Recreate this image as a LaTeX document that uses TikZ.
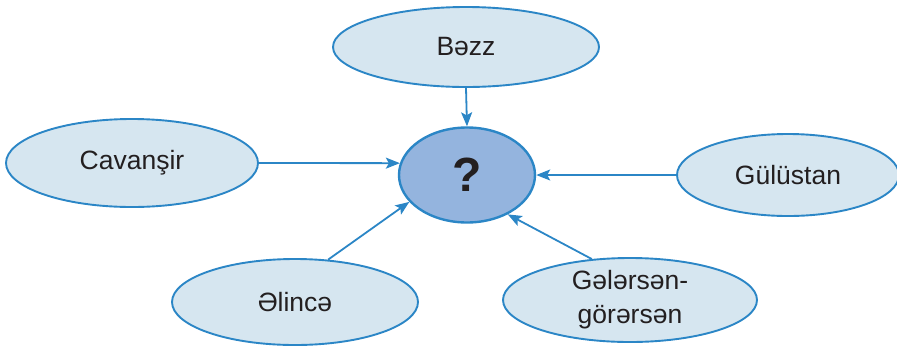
\documentclass[tikz,border=0pt]{standalone}
\usepackage{fontspec}
\setmainfont{Liberation Sans}
\usetikzlibrary{shapes.geometric,arrows.meta}
\definecolor{edgeblue}{HTML}{2B86C6}
\definecolor{lightfill}{HTML}{D6E6F0}
\definecolor{midfill}{HTML}{94B4DE}
\definecolor{txt}{HTML}{231F20}
\tikzset{
  leaf/.style={ellipse, draw=edgeblue, line width=1.9pt, fill=lightfill, inner sep=0pt,
    text=txt, font=\fontsize{26.5}{34}\selectfont, align=center},
  hub/.style={ellipse, draw=edgeblue, line width=2.4pt, fill=midfill, inner sep=0pt,
    text=txt, font=\fontsize{48}{50}\selectfont\bfseries},
  link/.style={draw=edgeblue, line width=1.8pt, -{Stealth[length=14pt,width=11pt,inset=3pt]}}
}
\begin{document}
\begin{tikzpicture}[x=1pt,y=-1pt]
\clip (0,0) rectangle (897,346);
\node[hub, minimum width=136pt, minimum height=95pt] (c) at (467,175) {?};
\node[leaf, minimum width=266pt, minimum height=80pt] (bezz) at (466,47) {Bəzz};
\node[leaf, minimum width=252pt, minimum height=88pt] (cav) at (132,163) {Cavanşir};
\node[leaf, minimum width=222pt, minimum height=82pt] (gul) at (788,175) {Gülüstan};
\node[leaf, minimum width=246pt, minimum height=86pt] (el) at (295,302) {Əlincə};
\node[leaf, minimum width=254pt, minimum height=84pt] (gel) at (630,300) {Gələrsən-\\görərsən};
\draw[link] (bezz.south) -- (c.north);
\draw[link] (cav.east) -- (c.170);
\draw[link] (gul.west) -- (c.east);
\draw[link] (el.52) -- (c.205);
\draw[link] (gel.133) -- (c.-44);
\end{tikzpicture}
\end{document}
